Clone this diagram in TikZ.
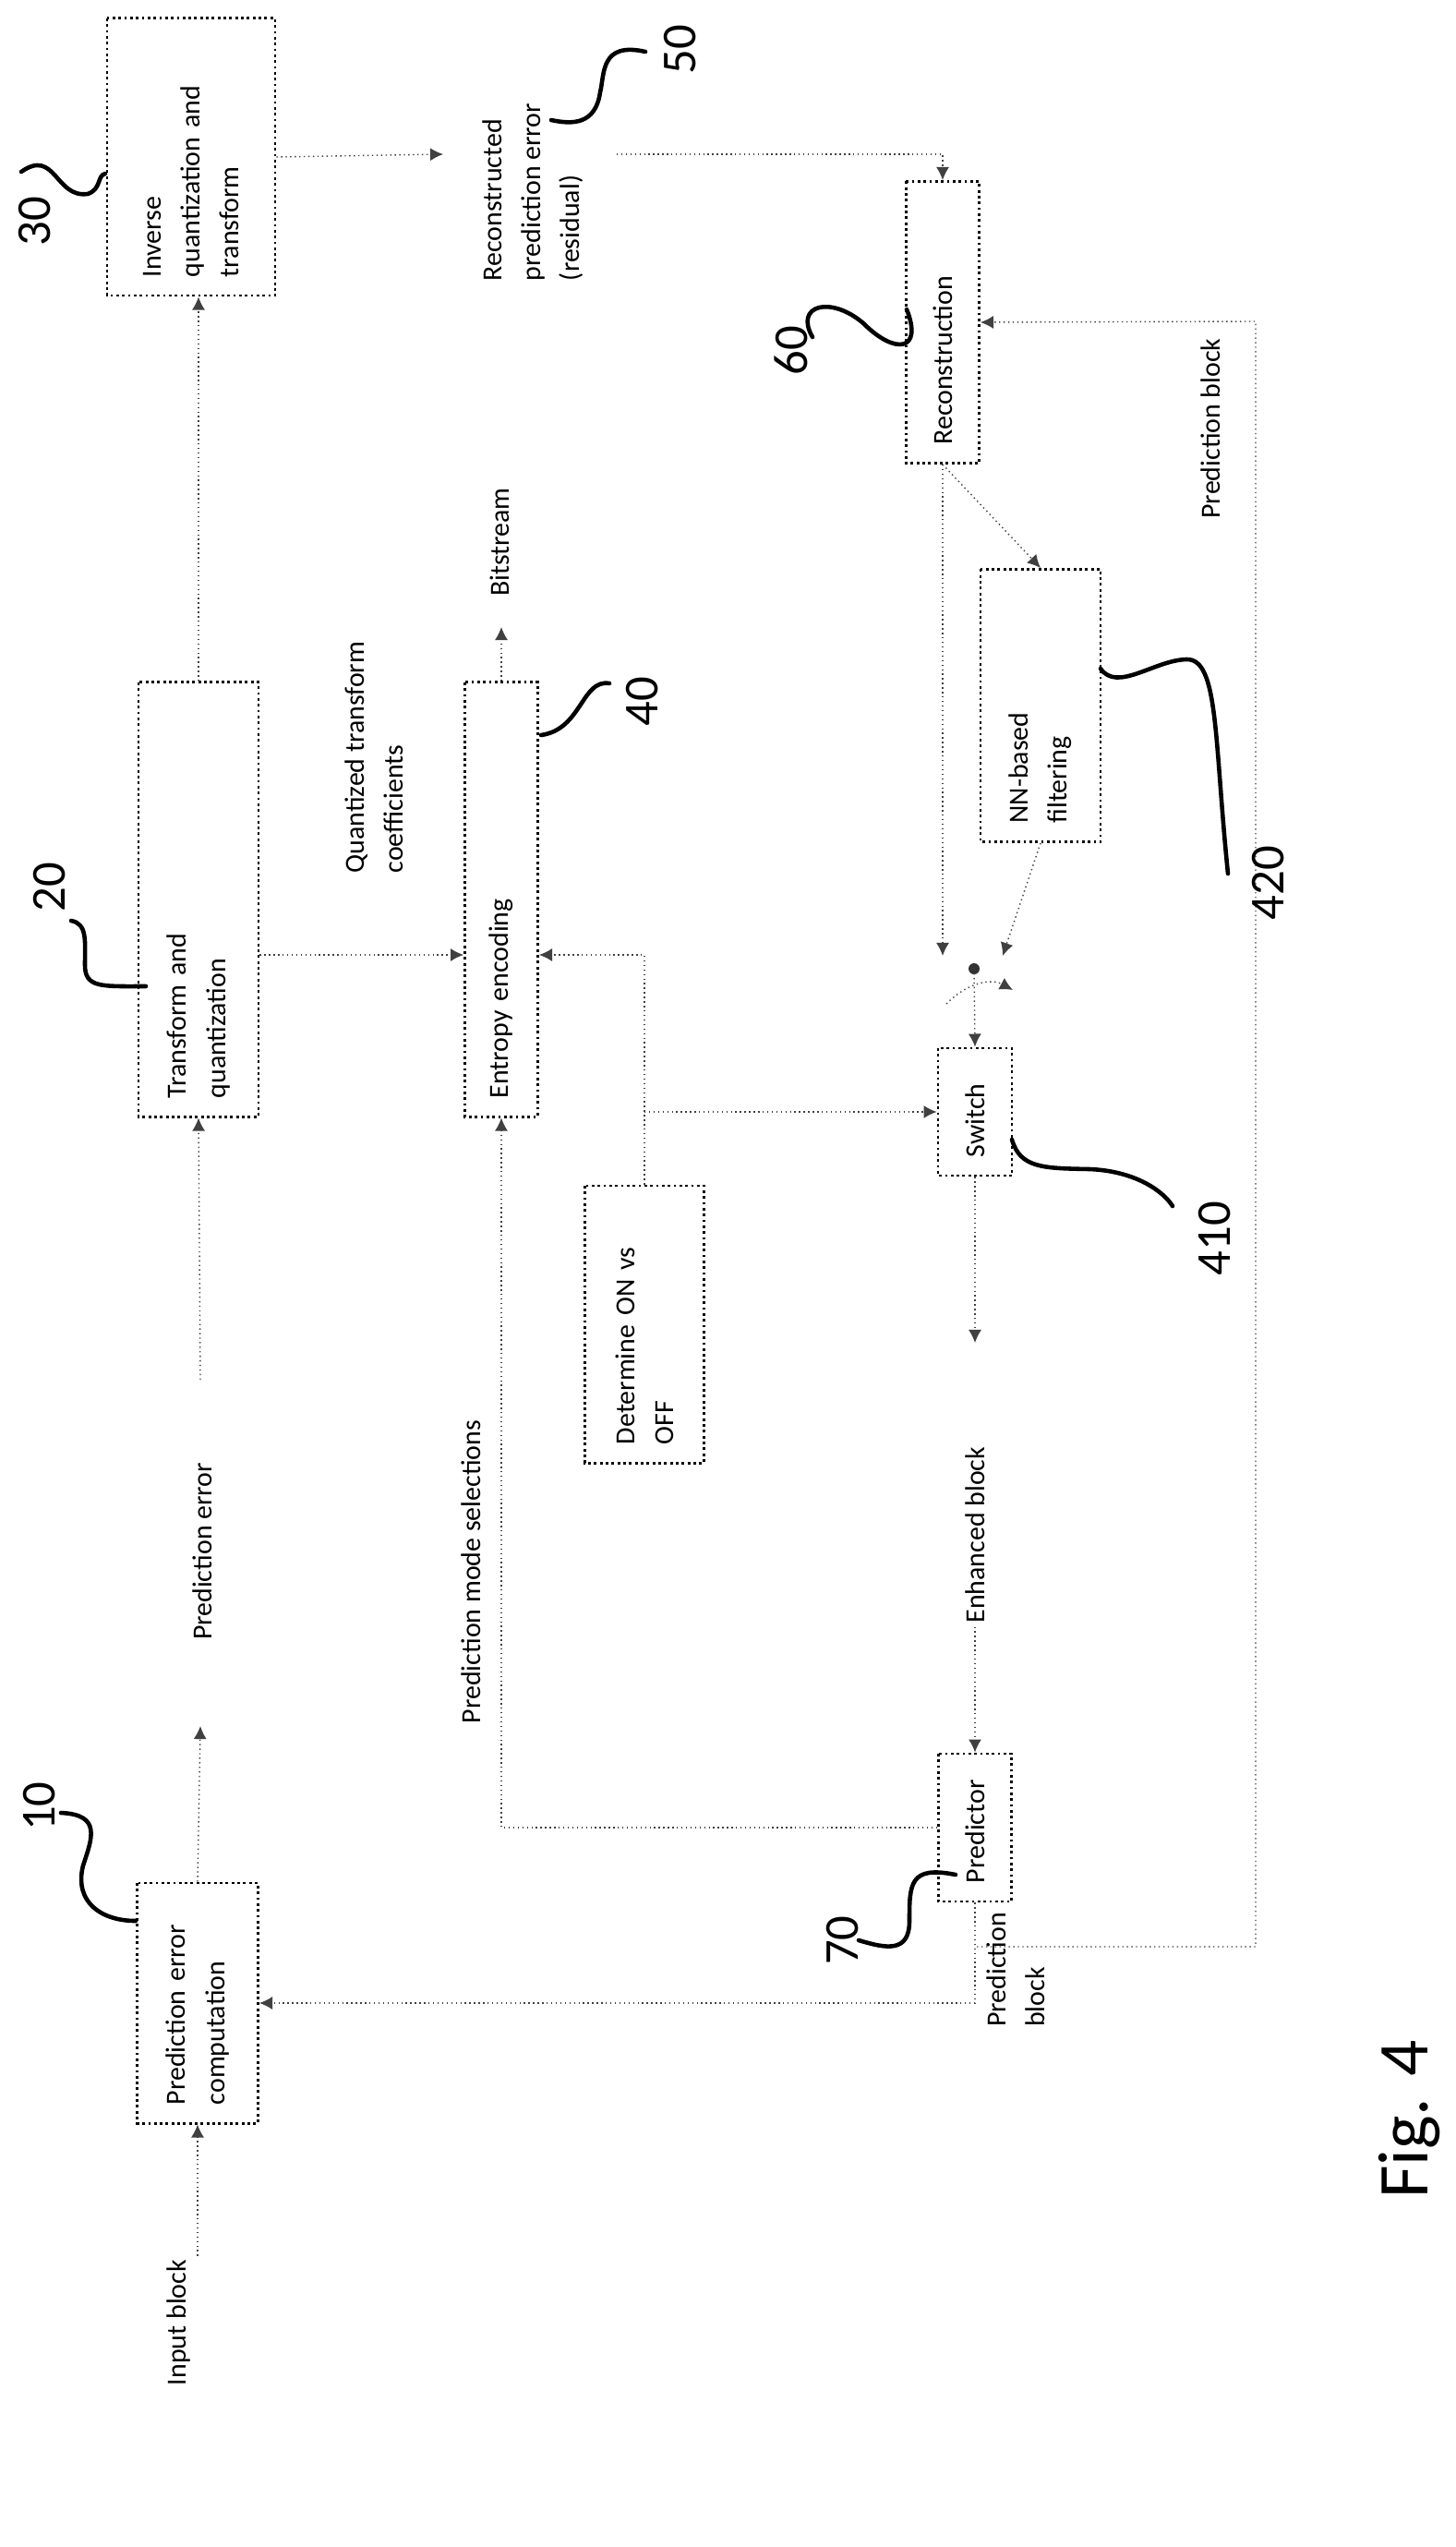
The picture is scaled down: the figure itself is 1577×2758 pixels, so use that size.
\documentclass[tikz,border=0pt]{standalone}
\usepackage{fontspec}
\setmainfont{Carlito}
\usetikzlibrary{arrows.meta}

\tikzset{
  blk/.style={draw, densely dotted, thick, rotate=90, align=left, inner xsep=0.2cm, inner ysep=2pt,
    font=\fontsize{8.5}{12}\selectfont},
  txt/.style={rotate=90, align=left, inner sep=1pt, font=\fontsize{8.5}{12}\selectfont},
  refnum/.style={rotate=90, font=\fontsize{15}{15}\selectfont},
  con/.style={densely dotted, black!75, -{Latex[length=4pt,width=4pt]}},
  lead/.style={line width=1.3pt, line cap=round},
}

\begin{document}
\begin{tikzpicture}[x=0.01cm, y=-0.01cm]
  \useasboundingbox (0,0) rectangle (1577,2758);

  % blocks
  \node[blk, text width=2.6cm, minimum height=1.82cm] (iqt) at (207,170) {Inverse\\quantization and\\transform};
  \node[blk, text width=4.3cm, minimum height=1.30cm] (tq) at (215,974) {Transform and\\quantization};
  \node[blk, text width=2.2cm, minimum height=1.31cm] (pec) at (214,2169) {Prediction error\\computation};
  \node[blk, text width=4.3cm, minimum height=0.79cm] (ee) at (543,974) {Entropy encoding};
  \node[blk, text width=2.6cm, minimum height=1.29cm] (det) at (698,1434) {Determine ON vs\\OFF};
  \node[blk, text width=2.65cm, minimum height=0.79cm] (rec) at (1021,349) {Reconstruction};
  \node[blk, text width=2.55cm, minimum height=1.30cm] (nn) at (1127,764) {NN-based\\filtering};
  \node[blk, text width=0.98cm, minimum height=0.80cm] (sw) at (1056,1204) {Switch};
  \node[blk, text width=1.2cm, minimum height=0.79cm] (pred) at (1056,1979) {Predictor};

  % free texts
  \node[txt] (in) at (194,2515) {Input block};
  \node[txt] (pe) at (219,1680) {Prediction error};
  \node[txt] (rpe) at (577,208) {Reconstructed\\prediction error\\(residual)};
  \node[txt] (qtc) at (405,820) {Quantized transform\\coefficients};
  \node[txt] (bs) at (541,587) {Bitstream};
  \node[txt] (pms) at (510,1702) {Prediction mode selections};
  \node[txt] (eb) at (1056,1662) {Enhanced block};
  \node[txt] (pb) at (1311,464) {Prediction block};
  \node[txt] (pbl) at (1100,2133) {Prediction\\block};

  \coordinate (peIn) at (217,1869);
  \coordinate (peOut) at (217,1494);
  \coordinate (rpeIn) at (480,167);
  \coordinate (rpeOut) at (668,167);
  \coordinate (bsIn) at (543,679);
  \coordinate (qc) at (0,1034);
  \coordinate (swL) at (1021,1035);
  \coordinate (swR) at (1086,1035);
  \coordinate (swDot) at (1055,1049);
  \coordinate (ebIn) at (1056,1454);
  \coordinate (pbTurn) at (1058,2108);
  \coordinate (pbTop) at (1360,348);

  % connectors
  \draw[con] (pec.west |- in.east) -- (pec.west);
  \draw[con] (pec.east) -- (peIn);
  \draw[con] (peOut) -- (tq.west);
  \draw[con] (tq.east) -- (tq.east |- iqt.west);
  \draw[con] (iqt.south) -- (rpeIn);
  \draw[con] (rpeOut) -| (rec.east);
  \draw[con] (tq.south |- qc) -- (ee.north |- qc);
  \draw[con] (ee.east) -- (bsIn);
  \draw[con] (det.east) |- (ee.south |- qc);
  \draw[con] (det.east |- sw.north) -- (sw.north);
  \draw[con] (rec.west) -- (swL);
  \draw[con] (rec.west) -- (nn.east);
  \draw[con] (nn.west) -- (swR);
  \fill[black!80] (swDot) circle (6);
  \draw[con] (1025,1087) .. controls (1050,1062) and (1075,1060) .. (1097,1072);
  \draw[con] (swDot) -- (sw.east);
  \draw[con] (sw.west) -- (ebIn);
  \draw[con] (eb.west) -- (pred.east);
  \draw[con] (pred.north) -| (ee.west);
  \draw[con] (pred.west) |- (pec.south);
  \draw[con] (pbTurn) -| (pbTop) -- (rec.south);

  % reference numerals
  \node[refnum] (n30) at (38,240) {30};
  \draw[lead] (23,186) .. controls (60,160) and (60,215) .. (95,210) .. controls (110,205) and (105,190) .. (114,188);
  \node[refnum] (n50) at (737,54) {50};
  \draw[lead] (699,56) .. controls (650,45) and (655,80) .. (650,100) .. controls (645,135) and (620,135) .. (597,130);
  \node[refnum] (n20) at (54,961) {20};
  \draw[lead] (77,997) .. controls (95,1000) and (92,1020) .. (92,1045) .. controls (92,1070) and (110,1068) .. (158,1068);
  \node[refnum] (n40) at (696,760) {40};
  \draw[lead] (660,740) .. controls (630,735) and (630,790) .. (586,796);
  \node[refnum] (n10) at (43,1956) {10};
  \draw[lead] (66,1963) .. controls (110,1965) and (100,1990) .. (90,2020) .. controls (80,2060) and (110,2080) .. (147,2080);
  \node[refnum] (n60) at (857,380) {60};
  \draw[lead] (880,365) .. controls (860,330) and (900,320) .. (935,350) .. controls (970,385) and (1000,380) .. (982,335);
  \node[refnum] (n70) at (913,2101) {70};
  \draw[lead] (930,2101) .. controls (960,2110) and (985,2115) .. (985,2080) .. controls (985,2040) and (985,2020) .. (1035,2030);
  \node[refnum] (n410) at (1316,1341) {410};
  \draw[lead] (1096,1234) .. controls (1105,1265) and (1130,1265) .. (1180,1266) .. controls (1230,1268) and (1260,1290) .. (1270,1306);
  \node[refnum] (n420) at (1374,956) {420};
  \draw[lead] (1192,724) .. controls (1210,750) and (1250,715) .. (1285,714) .. controls (1320,713) and (1315,800) .. (1330,946);

  \node[rotate=90, font=\fontsize{22}{22}\selectfont] (fig) at (1527,2295) {Fig. 4};
\end{tikzpicture}
\end{document}
